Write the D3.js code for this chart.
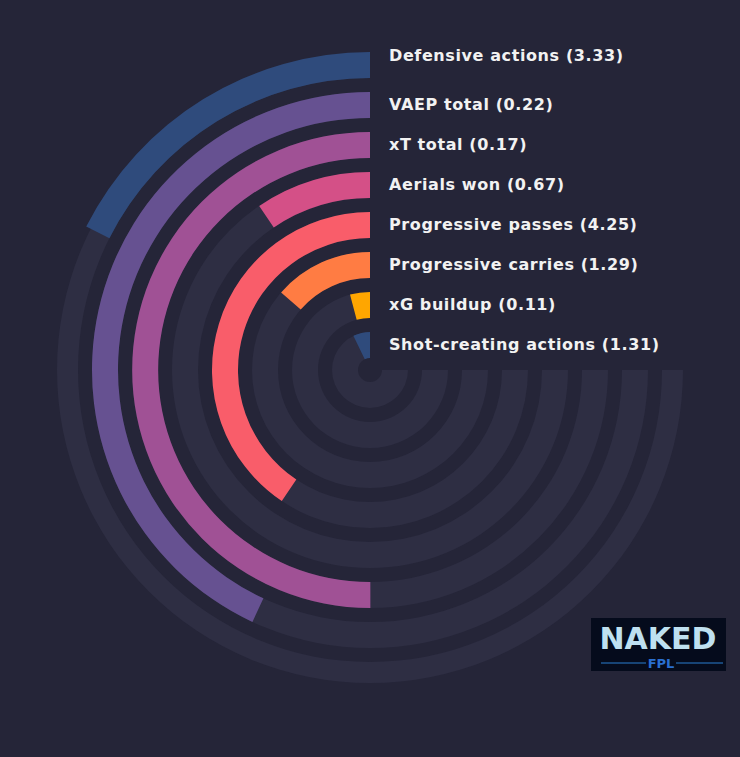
<!DOCTYPE html>
<html><head><meta charset="utf-8">
<script src="https://cdn.jsdelivr.net/npm/d3@7"></script>
<style>body{margin:0;background:#252538;}</style></head>
<body><svg id="c" width="740" height="757"></svg>
<script>
const categories = ["Defensive actions","VAEP total","xT total","Aerials won","Progressive passes","Progressive carries","xG buildup","Shot-creating actions"];
const values = [3.33,0.22,0.17,0.67,4.25,1.29,0.11,1.31];
const percentiles = [0.234,0.574,0.667,0.126,0.541,0.181,0.055,0.096];
const colors = ["#2f4b7c","#665191","#a05195","#d45087","#f95d6a","#ff7c43","#ffa600","#2f4b7c"];

const svg = d3.select("#c");
const g = svg.append("g").attr("transform","translate(370,370)");
const r = d3.scaleBand().domain(categories).range([318,12]).paddingInner(14/40).paddingOuter(0);
const a = d3.scaleLinear().domain([0,1]).range([0,-1.5*Math.PI]);
const arc = d3.arc().innerRadius(d=>r(d.c)).outerRadius(d=>r(d.c)+r.bandwidth()).startAngle(0).endAngle(d=>a(d.p));
const data = categories.map((c,i)=>({c,v:values[i],p:percentiles[i],col:colors[i],i}));
g.selectAll("path.track").data(data).join("path").attr("fill","#2e2e43")
 .attr("d",d=>d.i===0 ? d3.arc().innerRadius(r(d.c)).outerRadius(313).startAngle(0).endAngle(a(1))() : arc({c:d.c,p:1}));
g.selectAll("path.bar").data(data).join("path").attr("fill",d=>d.col).attr("d",arc);
g.selectAll("text").data(data).join("text")
 .attr("x",19).attr("y",d=>-(r(d.c)+r.bandwidth()/2)+5-(d.i===0?9:0))
 .attr("fill","#f2f2f2").attr("font-family","DejaVu Sans").attr("font-weight","bold").attr("font-size",16)
 .attr("letter-spacing",0.6)
 .text(d=>`${d.c} (${d.v.toFixed(2)})`);

const lg = svg.append("g").attr("transform","translate(591,618)");
lg.append("rect").attr("width",135).attr("height",53).attr("fill","#050b1c");
lg.append("text").attr("x",67).attr("y",31).attr("text-anchor","middle").attr("fill","#bfe0f0")
 .attr("font-family","DejaVu Sans").attr("font-weight","bold").attr("font-size",30).text("NAKED");
lg.append("line").attr("x1",10).attr("x2",55).attr("y1",45).attr("y2",45).attr("stroke","#2a7fd0");
lg.append("line").attr("x1",85).attr("x2",132).attr("y1",45).attr("y2",45).attr("stroke","#2a7fd0");
lg.append("text").attr("x",70).attr("y",50).attr("text-anchor","middle").attr("fill","#2a6fd0")
 .attr("font-family","DejaVu Sans").attr("font-weight","bold").attr("font-size",13).text("FPL");
</script></body></html>
